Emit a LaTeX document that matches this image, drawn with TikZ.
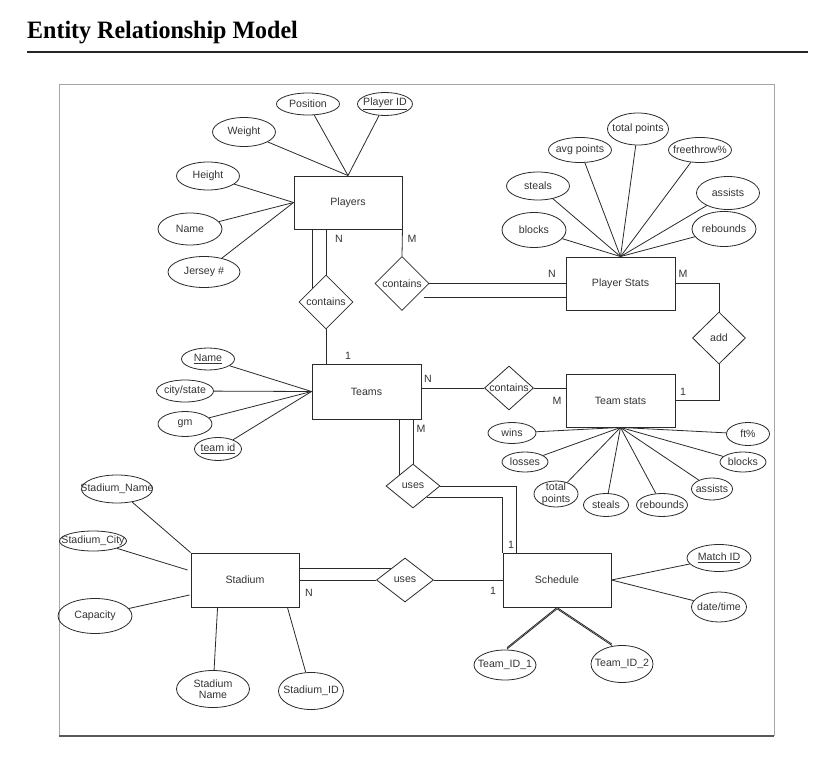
\documentclass[tikz,border=0pt]{standalone}
\usepackage{fontspec}
\setmainfont{Liberation Sans}
\newfontfamily\titlefont{Liberation Serif}
\usetikzlibrary{shapes.geometric,calc}
\definecolor{ink}{HTML}{2A2A2A}
\definecolor{txt}{HTML}{333333}
\tikzset{
  x=1pt, y=-1pt,
  every node/.style={font=\fontsize{10.6}{12}\selectfont, text=txt},
  lbl/.style={font=\fontsize{10.6}{11.5}\selectfont, text=txt, align=center, inner sep=0pt},
  ent/.style n args={2}{draw=ink, line width=0.9pt, rectangle, minimum width=#1, minimum height=#2, inner sep=0pt},
  attr/.style n args={3}{draw=ink, line width=0.8pt, ellipse, minimum width=#1, minimum height=#2, inner sep=0pt, label={[lbl]center:#3}},
  rel/.style n args={3}{draw=ink, line width=0.8pt, diamond, minimum width=#1, minimum height=#2, inner sep=0pt, label={[lbl]center:#3}},
  conn/.style={draw=ink, line width=0.8pt},
  card/.style={font=\fontsize{10.6}{12}\selectfont, inner sep=0pt, text=txt},
}
\begin{document}
\begin{tikzpicture}
\useasboundingbox (0,0) rectangle (839,773);
% title and rule
\node[anchor=base west, inner sep=0pt, text=black, font=\titlefont\bfseries\fontsize{25}{30}\selectfont] (title) at (27,39) {\scalebox{0.96}[1]{Entity Relationship Model}};
\draw[line width=1.6pt, draw=black!85] (27,52) coordinate (r1) -- (808,52) coordinate (r2);
% frame
\draw[line width=0.8pt, draw=black!35] (59,736) -- (59,84) -- (774,84) -- (774,736);
\draw[line width=1.6pt, draw=black!65] (59,736) -- (774,736);

% entities
\node[ent={108}{53}] (players) at (348,202.5) {Players};
\node[ent={109}{53}] (pstats) at (620.5,283.5) {Player Stats};
\node[ent={109}{55}] (teams) at (366.5,391.5) {Teams};
\node[ent={109}{53}] (tstats) at (620.5,400.5) {Team stats};
\node[ent={108}{54}] (stadium) at (245,580) {Stadium};
\node[ent={108}{54}] (schedule) at (557,580) {Schedule};

% relationships
\node[rel={54}{54}{contains}] (c1) at (326,302) {};
\node[rel={54}{54}{contains}] (c2) at (402,283.5) {};
\node[rel={53}{52}{add}] (add) at (719,338) {};
\node[rel={49}{44}{contains}] (c3) at (509,388) {};
\node[rel={54}{44}{uses}] (u1) at (413,486) {};
\node[rel={57}{44}{uses}] (u2) at (405,580) {};

% Players attributes
\node[attr={63}{22}{Position}] (pos) at (308,104) {};
\node[attr={55}{23}{\underline{Player ID}}] (pid) at (385,104) {};
\node[attr={63}{29}{Weight}] (wgt) at (244,132) {};
\node[attr={63}{28}{Height}] (hgt) at (208,176) {};
\node[attr={64}{32}{Name}] (pname) at (190,229) {};
\node[attr={72}{31}{Jersey \#}] (jersey) at (204,272) {};
\foreach \a in {pos,pid,wgt} \draw[conn] (players.north) -- (\a);
\foreach \a in {hgt,pname,jersey} \draw[conn] (players.west) -- (\a);

% Player Stats attributes
\node[attr={61}{32}{total points}] (tp) at (638,129) {};
\node[attr={63}{25}{avg points}] (ap) at (580,150) {};
\node[attr={63}{25}{freethrow\%}] (ft) at (700,150) {};
\node[attr={63}{28}{steals}] (st) at (538,186) {};
\node[attr={63}{33}{assists}] (as) at (728,193) {};
\node[attr={64}{35}{blocks}] (bl) at (534,230) {};
\node[attr={64}{35}{rebounds}] (rb) at (724,229) {};
\foreach \a in {tp,ap,ft,st,as,bl,rb} \draw[conn] (pstats.north) -- (\a);

% Teams attributes
\node[attr={53}{22}{\underline{Name}}] (tname) at (208,359) {};
\node[attr={57}{22}{city/state}] (city) at (185,391) {};
\node[attr={54}{25}{gm}] (gm) at (185,424) {};
\node[attr={47}{23}{\underline{team id}}] (tid) at (218,449) {};
\foreach \a in {tname,city,gm,tid} \draw[conn] (teams.west) -- (\a);

% Team stats attributes
\node[attr={48}{21}{wins}] (wins) at (512,433) {};
\node[attr={43}{23}{ft\%}] (ftp) at (748,434) {};
\node[attr={46}{20}{losses}] (loss) at (525,462) {};
\node[attr={46}{20}{blocks}] (tbl) at (743,462) {};
\node[attr={44}{26}{total\\points}] (ttp) at (556,494) {};
\node[attr={45}{23}{steals}] (tst) at (606,505) {};
\node[attr={51}{23}{rebounds}] (trb) at (662,505) {};
\node[attr={41}{22}{assists}] (tas) at (712,489) {};
\foreach \a in {wins,ftp,loss,tbl,ttp,tst,trb,tas} \draw[conn] (tstats.south) -- (\a);

% Stadium attributes
\node[attr={71}{28}{Stadium\_Name}] (sname) at (117,489) {};
\node[attr={67}{20}{Stadium\_City}] (scity) at (93,541) {};
\node[attr={74}{35}{Capacity}] (cap) at (95,616) {};
\node[attr={73}{37}{Stadium\\Name}] (sname2) at (213,689) {};
\node[attr={65}{37}{Stadium\_ID}] (sid) at (311,691) {};
\draw[conn] (stadium.north west) -- (sname);
\draw[conn] ($(stadium.west)+(-3,-10)$) coordinate (s1) -- (scity);
\draw[conn] ($(stadium.west)+(-1,15)$) coordinate (s2) -- (cap);
\draw[conn] ($(stadium.south west)+(27,0)$) coordinate (s3) -- (sname2);
\draw[conn] ($(stadium.south east)+(-12,0)$) coordinate (s4) -- (sid);

% Schedule attributes
\node[attr={64}{27}{\underline{Match ID}}] (mid) at (719,558) {};
\node[attr={55}{30}{date/time}] (dt) at (719,607) {};
\node[attr={62}{30}{Team\_ID\_1}] (t1) at (505,665) {};
\node[attr={62}{37}{Team\_ID\_2}] (t2) at (622,664) {};
\draw[conn] (schedule.east) -- (mid);
\draw[conn] (schedule.east) -- (dt);
\draw[conn] (schedule.south) -- ($(t1.north)+(2,-2)$) coordinate (e1);
\draw[conn] ($(schedule.south)+(0,1.4)$) coordinate (s5) -- ($(e1)+(0,1.4)$) coordinate (s6);
\draw[conn] (schedule.south) -- ($(t2.north)+(-10,-1)$) coordinate (e2);
\draw[conn] ($(schedule.south)+(0,1.4)$) coordinate (s7) -- ($(e2)+(0,1.4)$) coordinate (s8);

% relationship connectors
\draw[conn] (players.south -| c1.north) -- (c1.north);
\draw[conn] (players.south -| c1.north west) -- (c1.north west);
\draw[conn] (c1.south) -- (teams.north -| c1.south);
\draw[conn] (players.south east) -- (c2.north);
\draw[conn] (c2.east) -- (pstats.west |- c2.east);
\draw[conn] ($(c2.south east)+(8,0)$) coordinate (c2b) -- (pstats.west |- c2b);
\draw[conn] (pstats.east) -| (add.north);
\draw[conn] (add.south) |- (tstats.east);
\draw[conn] (teams.east |- c3.west) -- (c3.west);
\draw[conn] (c3.east) -- (tstats.west |- c3.east);
\draw[conn] (teams.south -| u1.north) -- (u1.north);
\draw[conn] (teams.south -| u1.north west) -- (u1.north west);
\draw[conn] (u1.east) -| ($(schedule.north west)+(14,0)$) coordinate (sch1);
\draw[conn] (u1.south east) -| (schedule.north west);
\draw[conn] (stadium.east |- u2.north west) -- (u2.north west);
\draw[conn] (stadium.east) -- (u2.west);
\draw[conn] (u2.east) -- (schedule.west);

% cardinalities
\node[card] (k1) at (339,239) {N};
\node[card] (k2) at (412,239) {M};
\node[card] (k3) at (348,356) {1};
\node[card] (k4) at (552,274) {N};
\node[card] (k5) at (683,274) {M};
\node[card] (k6) at (683,392) {1};
\node[card] (k7) at (428,379) {N};
\node[card] (k8) at (557,401) {M};
\node[card] (k9) at (421,429) {M};
\node[card] (k10) at (511,545) {1};
\node[card] (k11) at (493,591) {1};
\node[card] (k12) at (309,593) {N};
\end{tikzpicture}
\end{document}
